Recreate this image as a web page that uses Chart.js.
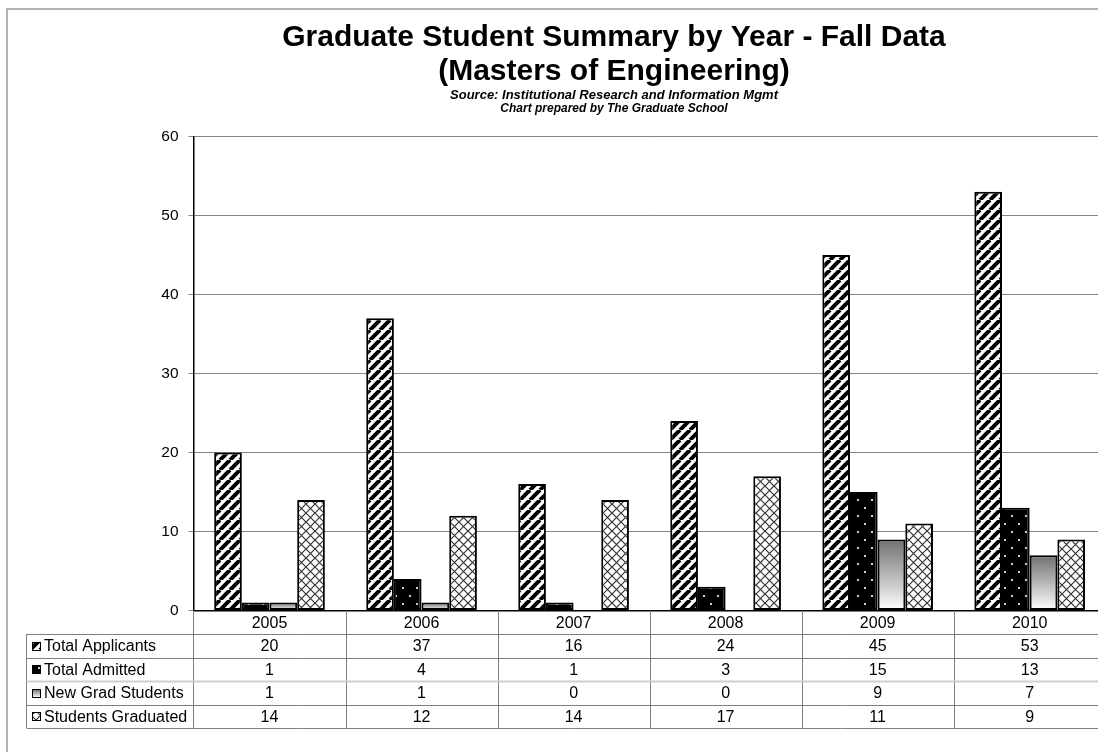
<!DOCTYPE html>
<html>
<head>
<meta charset="utf-8">
<script src="https://cdn.jsdelivr.net/npm/chart.js@4.4.1/dist/chart.umd.min.js"></script>
<style>
  html, body { margin: 0; padding: 0; background: #fff; overflow: hidden; }
  #wrap { width: 1098px; height: 752px; overflow: hidden; position: relative; }
</style>
</head>
<body>
<div id="wrap"><canvas id="summaryChart" width="1112" height="752"></canvas></div>
<script>
const years = ["2005", "2006", "2007", "2008", "2009", "2010"]
const totalApplicants = [20, 37, 16, 24, 45, 53]
const totalAdmitted = [1, 4, 1, 3, 15, 13]
const newGradStudents = [1, 1, 0, 0, 9, 7]
const studentsGraduated = [14, 12, 14, 17, 11, 9]
const seriesNames = ["Total Applicants", "Total Admitted", "New Grad Students", "Students Graduated"]
const yMax = 60
const yStep = 10

const FONT = "Arial, 'Liberation Sans', sans-serif"
const canvas = document.getElementById("summaryChart")
const ctx = canvas.getContext("2d")

function makePattern(w, h, draw) {
  const c = document.createElement("canvas")
  c.width = w
  c.height = h
  draw(c.getContext("2d"), w, h)
  return ctx.createPattern(c, "repeat")
}

// wide upward diagonal
const stripes = makePattern(10, 10, (g, w, h) => {
  g.fillStyle = "#fff"
  g.fillRect(0, 0, w, h)
  g.strokeStyle = "#000"
  g.lineWidth = 4
  ;[-w, 0, w].forEach((o) => {
    g.beginPath()
    g.moveTo(o, h)
    g.lineTo(o + w, 0)
    g.stroke()
  })
})

// black with small light dots
const dots = makePattern(14, 16, (g, w, h) => {
  g.fillStyle = "#000"
  g.fillRect(0, 0, w, h)
  g.fillStyle = "#cfcfcf"
  g.fillRect(3, 3, 2, 2)
  g.fillRect(10, 11, 2, 2)
})

// diagonal lattice
const lattice = makePattern(9, 9, (g, w, h) => {
  g.fillStyle = "#fff"
  g.fillRect(0, 0, w, h)
  g.strokeStyle = "#333"
  g.lineWidth = 1.2
  g.beginPath()
  g.moveTo(0, 0)
  g.lineTo(w, h)
  g.moveTo(w, 0)
  g.lineTo(0, h)
  g.stroke()
})

function grayFade(context) {
  const chart = context.chart
  const y = chart.scales.y
  if (!y || context.type !== "data") return "#aaa"
  const top = y.getPixelForValue(context.raw)
  const base = y.getPixelForValue(0)
  if (!(base > top)) return "#fff"
  const g = chart.ctx.createLinearGradient(0, top, 0, base)
  g.addColorStop(0, "#707070")
  g.addColorStop(1, "#ffffff")
  return g
}

const fills = [stripes, dots, grayFade, lattice]
const seriesData = [totalApplicants, totalAdmitted, newGradStudents, studentsGraduated]

const frame = {
  id: "frame",
  beforeDraw(chart) {
    const c = chart.ctx
    c.save()
    c.fillStyle = "#fff"
    c.fillRect(0, 0, chart.width, chart.height)
    c.strokeStyle = "#9a9a9a"
    c.lineWidth = 1.5
    c.beginPath()
    c.moveTo(7, chart.height)
    c.lineTo(7, 9)
    c.lineTo(chart.width, 9)
    c.stroke()

    c.fillStyle = "#000"
    c.textAlign = "center"
    c.textBaseline = "alphabetic"
    const cx = 614
    c.font = "bold 30px " + FONT
    c.fillText("Graduate Student Summary by Year - Fall Data", cx, 46)
    c.fillText("(Masters of Engineering)", cx, 80)
    c.font = "italic bold 13px " + FONT
    c.fillText("Source: Institutional Research and Information Mgmt", cx, 99)
    c.font = "italic bold 12px " + FONT
    c.fillText("Chart prepared by The Graduate School", cx, 112)
    c.restore()
  },
}

const dataTable = {
  id: "dataTable",
  afterDraw(chart) {
    const c = chart.ctx
    const area = chart.chartArea
    const xs = chart.scales.x
    const rowH = 23.5
    const left = 26.5
    const top = area.bottom
    const bottom = top + rowH * (seriesNames.length + 1)
    const half = (xs.getPixelForValue(1) - xs.getPixelForValue(0)) / 2

    c.save()
    c.lineWidth = 1
    c.strokeStyle = "#7f7f7f"
    for (let i = 0; i <= years.length; i++) {
      const x = Math.round(xs.getPixelForValue(i) - half) + 0.5
      c.beginPath()
      c.moveTo(x, top)
      c.lineTo(x, bottom)
      c.stroke()
    }
    c.beginPath()
    c.moveTo(left, top + rowH)
    c.lineTo(left, bottom)
    c.stroke()
    for (let r = 1; r <= seriesNames.length + 1; r++) {
      const y = Math.round(top + rowH * r) + 0.5
      c.strokeStyle = r === 3 ? "#cfcfcf" : "#7f7f7f"
      c.lineWidth = r === 3 ? 2 : 1
      c.beginPath()
      c.moveTo(left, y)
      c.lineTo(chart.width, y)
      c.stroke()
    }

    c.fillStyle = "#000"
    c.font = "16px " + FONT
    c.textBaseline = "middle"
    c.textAlign = "center"
    years.forEach((yr, i) => {
      c.fillText(yr, xs.getPixelForValue(i), top + rowH / 2 + 1)
    })
    seriesNames.forEach((name, r) => {
      const yMid = top + rowH * (r + 1.5) + 1
      const meta = chart.getDatasetMeta(r)
      const bar = meta.data.find((b) => b.height > 10) || meta.data[0]
      const kx = 32.5
      const ky = Math.round(yMid - 5) + 0.5
      let fill = bar.options.backgroundColor
      if (r === 2) {
        const g = c.createLinearGradient(0, ky, 0, ky + 8)
        g.addColorStop(0, "#707070")
        g.addColorStop(1, "#fff")
        fill = g
      }
      c.fillStyle = fill
      c.fillRect(kx, ky, 8, 8)
      c.strokeStyle = "#000"
      c.lineWidth = 1
      c.strokeRect(kx, ky, 8, 8)
      c.fillStyle = "#000"
      c.textAlign = "left"
      c.fillText(name, 44, yMid)
      c.textAlign = "center"
      seriesData[r].forEach((v, i) => {
        c.fillText(String(v), xs.getPixelForValue(i), yMid)
      })
    })
    c.restore()
  },
}

new Chart(ctx, {
  type: "bar",
  data: {
    labels: years,
    datasets: seriesNames.map((name, i) => ({
      label: name,
      data: seriesData[i],
      backgroundColor: fills[i],
      borderColor: "#000",
      borderWidth: 2,
      borderSkipped: false,
    })),
  },
  options: {
    responsive: false,
    animation: false,
    categoryPercentage: 0.728,
    barPercentage: 1.0,
    layout: {
      padding: { left: 133.5, right: 6.3, top: 136.5, bottom: 141.5 },
    },
    plugins: {
      legend: { display: false },
      tooltip: { enabled: false },
    },
    scales: {
      x: {
        grid: { display: false },
        border: { display: true, color: "#000", width: 1.5 },
        ticks: { display: false },
        afterFit: (s) => {
          s.height = 0
        },
      },
      y: {
        min: 0,
        max: yMax,
        ticks: {
          stepSize: yStep,
          color: "#000",
          padding: 10,
          font: { family: FONT, size: 15.5 },
        },
        grid: { color: "#868686", tickLength: 5 },
        border: { color: "#000", width: 1.5 },
        afterFit: (s) => {
          s.width = 60
        },
      },
    },
  },
  plugins: [frame, dataTable],
})
</script>
</body>
</html>
